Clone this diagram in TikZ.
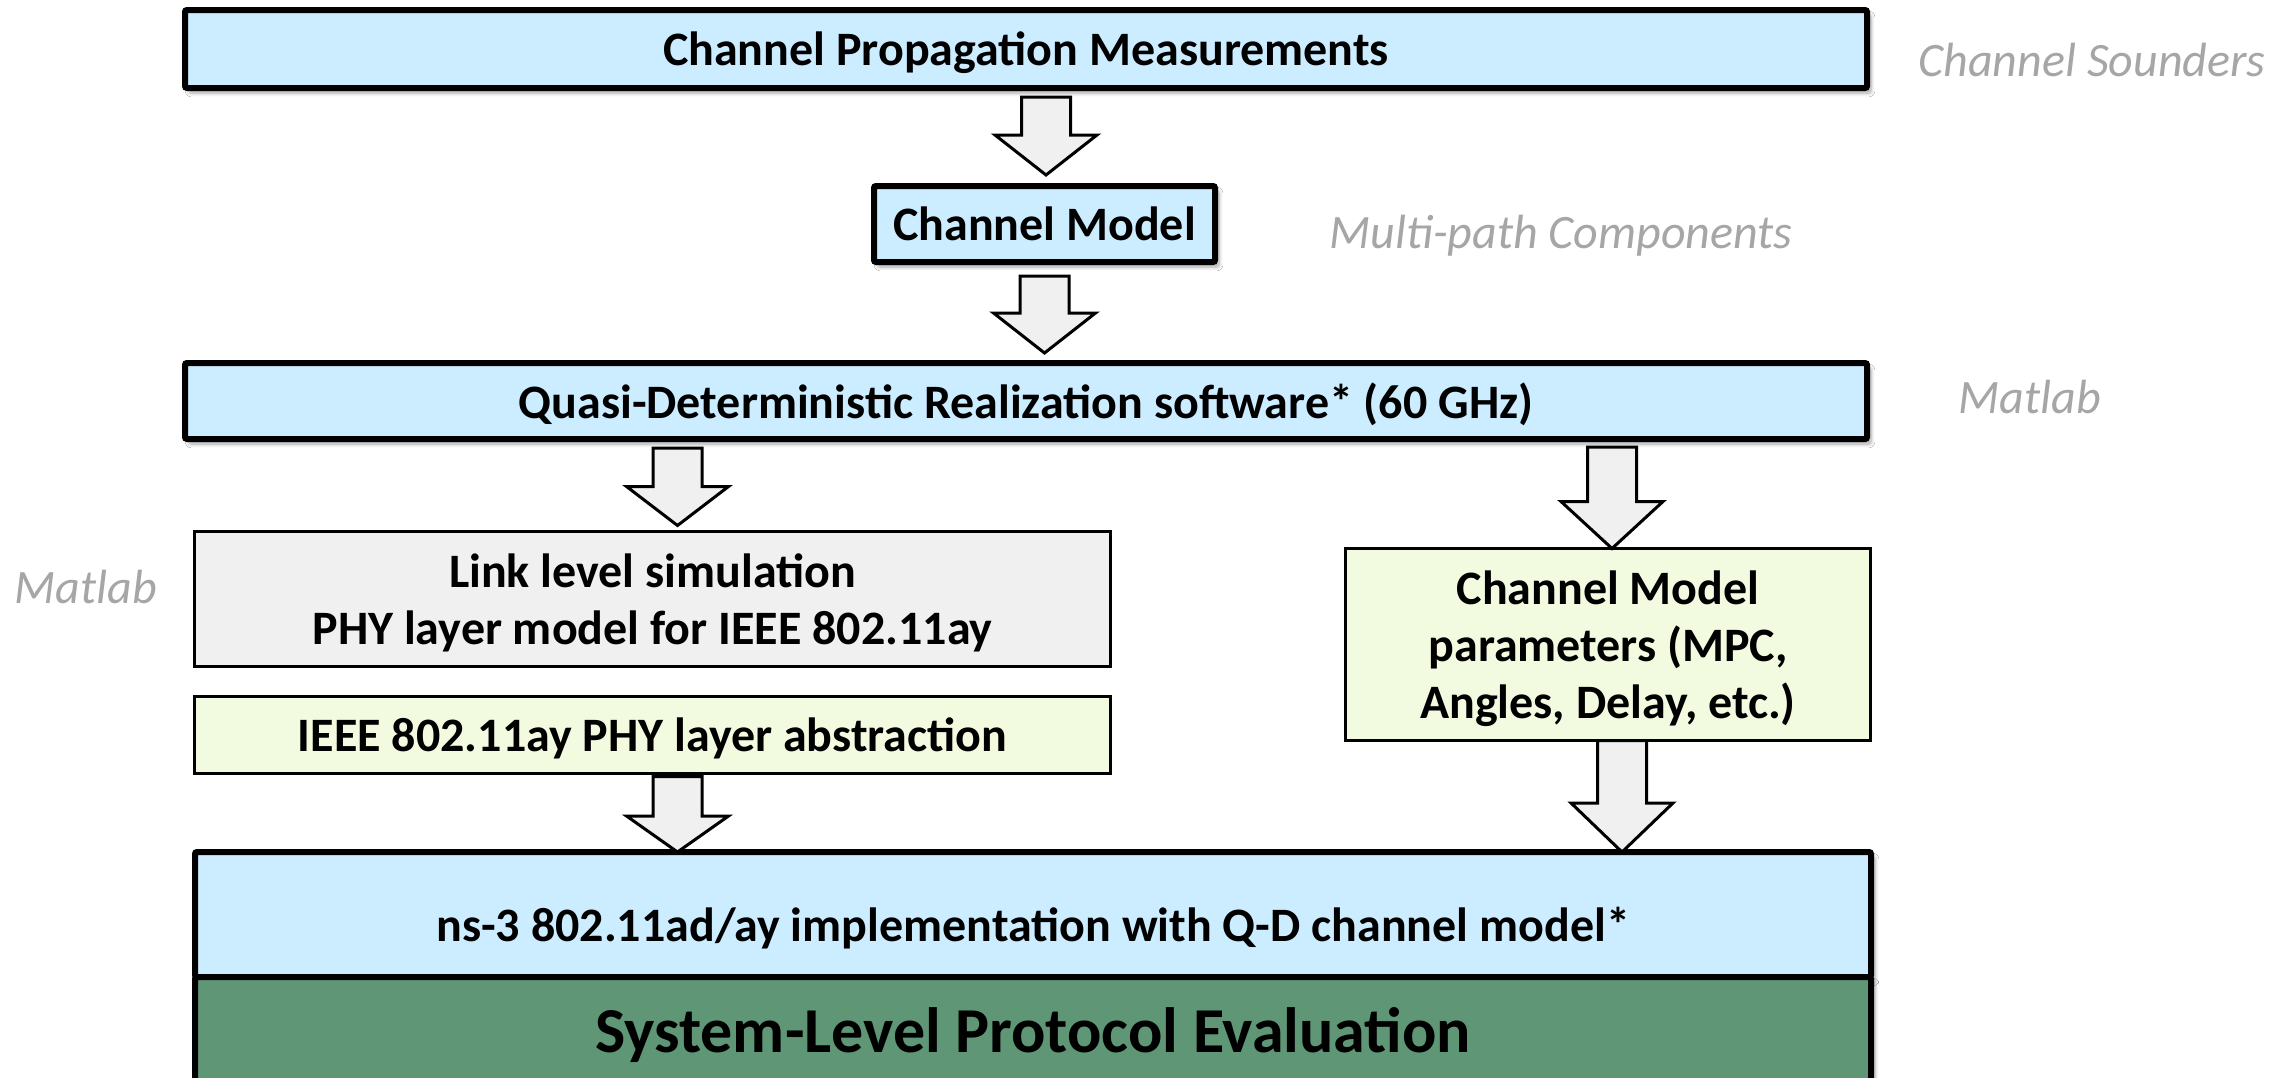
\documentclass[tikz,border=0pt]{standalone}
\usepackage{fontspec}
\setmainfont{Carlito}
\usetikzlibrary{calc,shadows.blur}
\definecolor{boxblue}{RGB}{204,236,255}
\definecolor{boxgray}{RGB}{240,240,240}
\definecolor{boxlime}{RGB}{242,250,224}
\definecolor{boxgreen}{RGB}{94,150,118}
\definecolor{notegray}{RGB}{166,166,166}
\tikzset{
  thickbox/.style={draw=black, line width=3pt, fill=boxblue, inner sep=0pt, outer sep=0pt,
    rounded corners=1pt, text depth=0pt,
    blur shadow={shadow xshift=2pt, shadow yshift=-2.5pt, shadow blur steps=6, shadow opacity=35},
    font=\fontsize{24}{28}\selectfont\bfseries},
  thinbox/.style={draw=black, line width=1.5pt, inner sep=0pt, outer sep=0pt, text depth=0pt,
    font=\fontsize{24}{28.5}\selectfont\bfseries, align=center},
  boxtext/.style={inner sep=0pt, font=\fontsize{24}{28}\selectfont\bfseries},
  note/.style={text=notegray, font=\fontsize{24}{28}\selectfont\itshape, inner sep=0pt, anchor=base},
  blockarrow/.style={draw=black, fill=boxgray, line width=1.5pt, line join=miter},
}
\newcommand\blockarrow[3]{%
  \filldraw[blockarrow] ($(#1)+(-24.5,0)$) -- ($(#2)+(-24.5,-#3)$) -- ($(#2)+(-51,-#3)$) -- (#2)
    -- ($(#2)+(51,-#3)$) -- ($(#2)+(24.5,-#3)$) -- ($(#1)+(24.5,0)$) -- cycle;}
\begin{document}
\begin{tikzpicture}[x=0.5pt,y=-0.5pt]
\useasboundingbox[fill=white] (0,0) rectangle (2285,1077);

% boxes
\node[thickbox, minimum width=841pt, minimum height=39pt] (top) at (1026,49) {Channel Propagation Measurements};
\node[thickbox, minimum width=170.5pt, minimum height=38pt] (cm) at (1044.5,224) {Channel Model};
\node[thickbox, minimum width=841pt, minimum height=38pt] (quasi) at (1026,401) {Quasi-Deterministic Realization software* (60 GHz)};
\node[thinbox, fill=boxgray, minimum width=458pt, minimum height=67.5pt] (link) at (652.5,599) {Link level simulation\\PHY layer model for IEEE 802.11ay};
\node[thinbox, fill=boxlime, minimum width=458pt, minimum height=38.5pt] (ieee) at (652.5,735) {IEEE 802.11ay PHY layer abstraction};
\node[thinbox, fill=boxlime, minimum width=262.5pt, minimum height=96pt] (params) at (1608,644.5) {Channel Model\\parameters (MPC,\\Angles, Delay, etc.)};
\node[thickbox, minimum width=838pt, minimum height=62.5pt] (ns3) at (1033,914.5) {};
\node[boxtext] (ns3t) at ($(ns3)+(0,14)$) {ns-3 802.11ad/ay implementation with Q-D channel model*};
\node[thickbox, fill=boxgreen, minimum width=838pt, minimum height=53pt,
      font=\fontsize{32}{36}\selectfont\bfseries] (sys) at (1033,1030) {System-Level Protocol Evaluation};

% side notes
\node[note] (n1) at (2092,76.5) {Channel Sounders};
\node[note] (n2) at (1561,248) {Multi-path Components};
\node[note] (n3) at (2030,413) {Matlab};
\node[note] (n4) at (86,603) {Matlab};

% block arrows
\coordinate (a1s) at ($(top.south)+(20,9)$);
\coordinate (a1e) at ($(a1s |- cm.north)+(0,-11)$);
\blockarrow{a1s}{a1e}{40}
\coordinate (a2s) at ($(cm.south)+(0,14)$);
\coordinate (a2e) at ($(a2s |- quasi.north)+(0,-10)$);
\blockarrow{a2s}{a2e}{40}
\coordinate (a3s) at ($(quasi.south -| link.north)+(25,9)$);
\coordinate (a3e) at ($(a3s |- link.north)+(0,-6)$);
\blockarrow{a3s}{a3e}{39}
\coordinate (a4s) at ($(quasi.south -| params.north)+(4,8)$);
\coordinate (a4e) at (a4s |- params.north);
\blockarrow{a4s}{a4e}{47}
\coordinate (a5s) at ($(ieee.south)+(25,3)$);
\coordinate (a5e) at (a5s |- ns3.north);
\blockarrow{a5s}{a5e}{36}
\coordinate (a6s) at ($(params.south)+(14,0)$);
\coordinate (a6e) at (a6s |- ns3.north);
\blockarrow{a6s}{a6e}{49}
\end{tikzpicture}
\end{document}
